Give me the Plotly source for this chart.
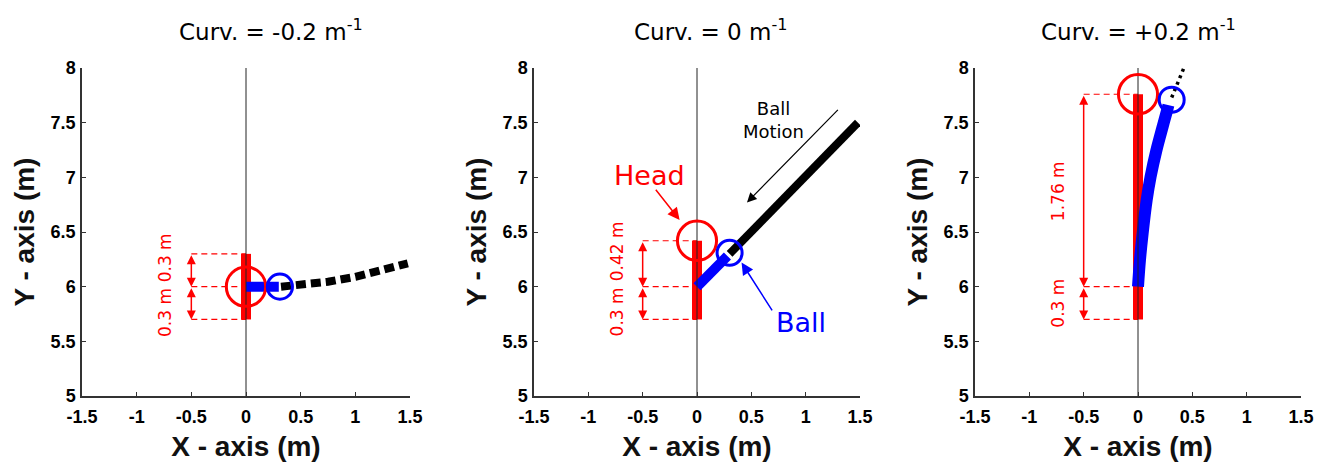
import plotly.graph_objects as go

# ---------------- data ----------------
curv_labels = ["-0.2", "0", "+0.2"]
title_x_px = [271, 711, 1138]

x_ticks = [-1.5, -1, -0.5, 0, 0.5, 1, 1.5]
x_ticktext = ["-1.5", "-1", "-0.5", "0", "0.5", "1", "1.5"]
y_ticks = [5, 5.5, 6, 6.5, 7, 7.5, 8]
y_ticktext = ["5", "5.5", "6", "6.5", "7", "7.5", "8"]

head_x = [0.0, 0.0, 0.0]
head_y = [6.0, 6.42, 7.76]
head_r = [0.18, 0.18, 0.18]
body_base = [5.7, 5.7, 5.7]
body_top = [6.3, 6.42, 7.76]

ball_cx = [0.31, 0.30, 0.31]
ball_cy = [6.0, 6.31, 7.71]
ball_r = [0.115, 0.115, 0.115]

blue_x = [[0.0, 0.30],
          [0.0, 0.28],
          [0.0, 0.018, 0.043, 0.08, 0.116, 0.17, 0.227, 0.269, 0.28]]
blue_y = [[6.0, 6.0],
          [6.0, 6.28],
          [6.0, 6.244, 6.489, 6.793, 7.006, 7.25, 7.464, 7.617, 7.66]]

black_x = [[0.32, 0.5, 0.75, 1.0, 1.25, 1.48],
           [0.30, 1.48],
           [0.31, 0.43]]
black_y = [[6.0, 6.015, 6.045, 6.09, 6.145, 6.214],
           [6.30, 7.50],
           [7.73, 8.02]]

dim_x0 = -0.5
dim_levels = [[6.3, 6.0, 5.7], [6.42, 6.0, 5.7], [7.76, 6.0, 5.7]]
dim_text = [["0.3 m", "0.3 m"], ["0.42 m", "0.3 m"], ["1.76 m", "0.3 m"]]
dim_text_y = [[6.26, 5.76], [6.32, 5.77], [6.87, 5.85]]
dim_text_x = -0.74

# panel 2 callouts
head_label = ("Head", -0.44, 7.02)
head_arrow = (-0.39, 6.90, -0.16, 6.61)   # tail x,y -> head x,y
ball_label = ("Ball", 0.956, 5.668)
ball_arrow = (0.70, 5.77, 0.41, 6.22)
motion_label = ("Ball<br>Motion", 0.70, 7.52)
motion_arrow = (1.31, 7.63, 0.46, 6.77)

# ---------------- layout geometry ----------------
W, H = 1325, 467
x_dom_px = [(82, 410), (534, 860), (975, 1301)]
y_dom_px = (68, 396)

RED = "#ff0000"
BLUE = "#0000ff"
FONT = "DejaVu Sans"
TICK_FONT = dict(family="Liberation Sans, Arial, sans-serif", size=18, color="#000000", weight=700)

fig = go.Figure()
annotations = []
shapes = []

for i in range(3):
    xa = "x" if i == 0 else f"x{i+1}"
    ya = "y" if i == 0 else f"y{i+1}"

    for lv in dim_levels[i]:
        fig.add_trace(go.Scatter(x=[dim_x0, head_x[i]], y=[lv, lv], mode="lines",
                                 line=dict(color=RED, width=1.2, dash="6px,4px"),
                                 xaxis=xa, yaxis=ya, showlegend=False, hoverinfo="skip"))
    fig.add_trace(go.Scatter(x=[head_x[i], head_x[i]], y=[body_base[i], body_top[i]], mode="lines",
                             line=dict(color=RED, width=10),
                             xaxis=xa, yaxis=ya, showlegend=False, hoverinfo="skip"))
    if i == 0:
        bl = dict(color="black", width=8, dash="10px,5px")
    elif i == 1:
        bl = dict(color="black", width=8)
    else:
        bl = dict(color="black", width=3.5, dash="3px,4px")
    fig.add_trace(go.Scatter(x=black_x[i], y=black_y[i], mode="lines", line=bl,
                             xaxis=xa, yaxis=ya, showlegend=False, hoverinfo="skip"))
    fig.add_trace(go.Scatter(x=blue_x[i], y=blue_y[i], mode="lines",
                             line=dict(color=BLUE, width=10 if i < 2 else 12, shape="spline"),
                             xaxis=xa, yaxis=ya, showlegend=False, hoverinfo="skip"))
    fig.add_trace(go.Scatter(x=[0, 0], y=[y_ticks[0], y_ticks[-1]], mode="lines",
                             line=dict(color="#222222", width=1),
                             xaxis=xa, yaxis=ya, showlegend=False, hoverinfo="skip"))

    shapes.append(dict(type="circle", xref=xa, yref=ya,
                       x0=head_x[i] - head_r[i], x1=head_x[i] + head_r[i],
                       y0=head_y[i] - head_r[i], y1=head_y[i] + head_r[i],
                       line=dict(color=RED, width=3)))
    shapes.append(dict(type="circle", xref=xa, yref=ya,
                       x0=ball_cx[i] - ball_r[i], x1=ball_cx[i] + ball_r[i],
                       y0=ball_cy[i] - ball_r[i], y1=ball_cy[i] + ball_r[i],
                       line=dict(color=BLUE, width=3)))

    lv = dim_levels[i]
    for a, b in [(lv[0], lv[1]), (lv[1], lv[2])]:
        annotations.append(dict(x=dim_x0, y=b, ax=dim_x0, ay=a, xref=xa, yref=ya,
                                axref=xa, ayref=ya, text="", showarrow=True,
                                arrowhead=2, startarrowhead=2, arrowside="end+start",
                                arrowsize=1.2, startarrowsize=1.2, arrowwidth=1.5,
                                arrowcolor=RED))
    for t, ty in zip(dim_text[i], dim_text_y[i]):
        annotations.append(dict(x=dim_text_x, y=ty, xref=xa, yref=ya, text=t,
                                showarrow=False, textangle=-90,
                                font=dict(family=FONT, size=17, color=RED)))

    annotations.append(dict(x=title_x_px[i] / W, y=1 - 30 / H, xref="paper", yref="paper",
                            text=f"Curv. = {curv_labels[i]} m<sup>-1</sup>", showarrow=False,
                            font=dict(family=FONT, size=23, color="black"),
                            xanchor="center", yanchor="middle"))

for (tx, ty, hx, hy), col, w in [(head_arrow, RED, 1.5), (ball_arrow, BLUE, 1.5), (motion_arrow, "black", 1.2)]:
    annotations.append(dict(x=hx, y=hy, ax=tx, ay=ty, xref="x2", yref="y2", axref="x2", ayref="y2",
                            text="", showarrow=True, arrowhead=2, arrowsize=1.6,
                            arrowwidth=w, arrowcolor=col))
for (t, tx, ty), col, sz in [(head_label, RED, 27), (ball_label, BLUE, 27), (motion_label, "black", 18)]:
    annotations.append(dict(x=tx, y=ty, xref="x2", yref="y2", text=t, showarrow=False,
                            font=dict(family=FONT, size=sz, color=col)))

fig.update_layout(width=W, height=H, margin=dict(l=0, r=0, t=0, b=0),
                  plot_bgcolor="white", paper_bgcolor="white",
                  annotations=annotations, shapes=shapes, showlegend=False)

for i in range(3):
    row_x = dict(domain=[x_dom_px[i][0] / W, x_dom_px[i][1] / W],
                 range=[-1.5, 1.5], tickmode="array", tickvals=x_ticks, ticktext=x_ticktext,
                 anchor="y" if i == 0 else f"y{i+1}", ticklabelstandoff=4,
                 title=dict(text="X - axis (m)", standoff=10,
                            font=dict(family="Liberation Sans", size=28, color="#111111", weight="bold")))
    row_y = dict(domain=[1 - y_dom_px[1] / H, 1 - y_dom_px[0] / H],
                 range=[5, 8], tickmode="array", tickvals=y_ticks, ticktext=y_ticktext,
                 anchor="x" if i == 0 else f"x{i+1}", ticklabelstandoff=1,
                 title=dict(text="Y - axis (m)", standoff=8,
                            font=dict(family="Liberation Sans", size=28, color="#111111", weight="bold")))
    for d in (row_x, row_y):
        d.update(showgrid=False, zeroline=False, showline=True, linecolor="#333333", linewidth=1.5,
                 ticks="inside", ticklen=4, tickwidth=1, tickcolor="#333333", automargin=False,
                 tickfont=TICK_FONT)
    fig.layout["xaxis" if i == 0 else f"xaxis{i+1}"] = row_x
    fig.layout["yaxis" if i == 0 else f"yaxis{i+1}"] = row_y

fig.write_html("out.html")
